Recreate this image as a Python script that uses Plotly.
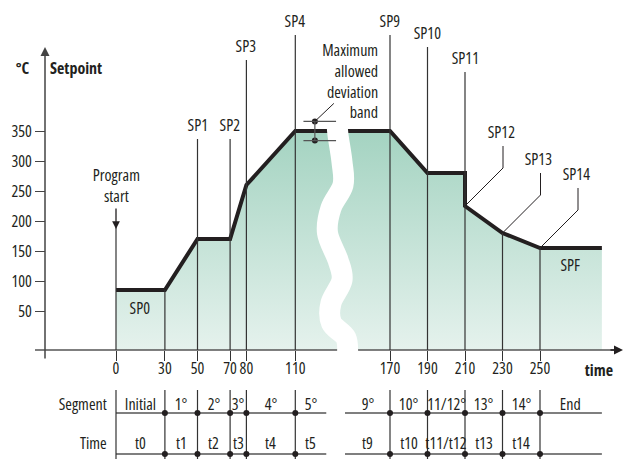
import plotly.graph_objects as go

# ---------------- data ----------------
times_left = [0, 30, 50, 70, 80, 110]
setpoints_left = [85, 85, 170, 170, 260, 350]
times_right = [170, 190, 210, 210, 230, 250]
setpoints_right = [350, 280, 280, 225, 180, 155]
end_time = 283          # end of the SPF hold
hold_value = 350        # SP4..SP9 plateau (hidden by the axis break)
deviation = 16          # half-width of the maximum allowed deviation band
y_ticks = [50, 100, 150, 200, 250, 300, 350]

sp_names = ["SP1", "SP2", "SP3", "SP4", "SP9", "SP10", "SP11"]
sp_times = [50, 70, 80, 110, 170, 190, 210]
leader_names = ["SP12", "SP13", "SP14"]
leader_times = [210, 230, 250]
leader_values = [225, 180, 155]

segment_left = ["Initial", "1°", "2°", "3°", "4°", "5°"]
timecol_left = ["t0", "t1", "t2", "t3", "t4", "t5"]
segment_right = ["9°", "10°", "11/12°", "13°", "14°", "End"]
timecol_right = ["t9", "t10", "t11/t12", "t13", "t14", ""]

# ---------------- layout helpers ----------------
W, H = 628, 459
def px(x): return x / W
def py(y): return 1 - y / H

FONT = "Open Sans, Liberation Sans, Arial, sans-serif"
INK = "#231f20"
GRID = "#333333"
FS = 16

Y_BOTTOM = -15
Y_TOP = Y_BOTTOM + 350 / 0.6
LEFT_RANGE = [(35 - 116) / 1.63, (345 - 116) / 1.63]
RIGHT_RANGE = [210 + (332 - 465) / 1.875, 210 + (612 - 465) / 1.875]
L_END = 129      # where the left table rows stop (axis break)
R_START = 146    # where the right table rows start
BREAK_L = 150    # plateau continues past the left panel edge
BREAK_R = 130    # plateau starts before the right panel edge

label_top_px = [139, 139, 60, 35, 35, 47, 72]

grad = dict(type="vertical",
            colorscale=[[0, "rgb(229,242,237)"], [1, "rgb(164,211,193)"]],
            start=Y_BOTTOM, stop=350)

fig = go.Figure()

# fills
fx = [0] + times_left + [BREAK_L, BREAK_L]
fy = [Y_BOTTOM] + setpoints_left + [hold_value, Y_BOTTOM]
fig.add_trace(go.Scatter(x=fx, y=fy, fill="toself", mode="lines",
                         line=dict(width=0), fillgradient=grad,
                         xaxis="x", yaxis="y", hoverinfo="skip"))
gx = [BREAK_R, BREAK_R] + times_right + [end_time, end_time]
gy = [Y_BOTTOM, hold_value] + setpoints_right + [setpoints_right[-1], Y_BOTTOM]
fig.add_trace(go.Scatter(x=gx, y=gy, fill="toself", mode="lines",
                         line=dict(width=0), fillgradient=grad,
                         xaxis="x2", yaxis="y", hoverinfo="skip"))

# setpoint profile
fig.add_trace(go.Scatter(x=times_left + [BREAK_L], y=setpoints_left + [hold_value],
                         mode="lines", line=dict(color=INK, width=4),
                         xaxis="x", yaxis="y"))
fig.add_trace(go.Scatter(x=[BREAK_R] + times_right + [end_time],
                         y=[hold_value] + setpoints_right + [setpoints_right[-1]],
                         mode="lines", line=dict(color=INK, width=4),
                         xaxis="x2", yaxis="y"))

# deviation band markers
dev_t = 122
fig.add_trace(go.Scatter(x=[dev_t, dev_t], y=[hold_value + deviation, hold_value - deviation],
                         mode="markers", marker=dict(color=INK, size=6),
                         xaxis="x", yaxis="y"))

shapes = []
annotations = []

def xref_for(t):
    return "x" if t <= 140 else "x2"

def txt(size=FS, family=FONT):
    return dict(size=size, color=INK, family=family)

def ann(**kw):
    d = dict(showarrow=False, xanchor="center", yanchor="middle", font=txt())
    d.update(kw)
    annotations.append(d)

# axis lines (broken)
shapes.append(dict(type="line", xref="paper", yref="paper", x0=px(35), x1=px(340),
                   y0=py(350), y1=py(350), line=dict(color="#555", width=1.5), layer="above"))
shapes.append(dict(type="line", xref="paper", yref="paper", x0=px(352), x1=px(614),
                   y0=py(350), y1=py(350), line=dict(color="#555", width=1.5), layer="above"))

# vertical lines from labels
for name, t, top in zip(sp_names, sp_times, label_top_px):
    xr = xref_for(t)
    shapes.append(dict(type="line", xref=xr, yref="paper", x0=t, x1=t,
                       y0=py(350), y1=py(top), line=dict(color=GRID, width=1.2), layer="above"))
    ann(x=t, xref=xr, y=py(top - 14), yref="paper", text=name)
# vertical lines from the curve
for t, v in [(30, setpoints_left[1])] + list(zip(leader_times[1:], leader_values[1:])):
    xr = xref_for(t)
    shapes.append(dict(type="line", xref=xr, yref="y", x0=t, x1=t, y0=Y_BOTTOM, y1=v,
                       line=dict(color=GRID, width=1.2), layer="above"))
# program start line
shapes.append(dict(type="line", xref="x", yref="paper", x0=0, x1=0, y0=py(350), y1=py(226),
                   line=dict(color=GRID, width=1.2), layer="above"))

# white wavy break band
pts = [(337, 122), (338, 135), (342, 162), (343, 185), (331, 208), (327.5, 233),
       (338, 260), (342, 280), (331, 303), (331.5, 323), (346, 338), (347.5, 358)]
P = [pts[0]] + pts + [pts[-1]]
path = "M{},{}".format(px(P[1][0]), py(P[1][1]))
for i in range(1, len(P) - 2):
    p0, p1, p2, p3 = P[i - 1], P[i], P[i + 1], P[i + 2]
    c1 = (p1[0] + (p2[0] - p0[0]) / 6, p1[1] + (p2[1] - p0[1]) / 6)
    c2 = (p2[0] - (p3[0] - p1[0]) / 6, p2[1] - (p3[1] - p1[1]) / 6)
    path += " C{},{} {},{} {},{}".format(px(c1[0]), py(c1[1]), px(c2[0]), py(c2[1]),
                                          px(p2[0]), py(p2[1]))
shapes.append(dict(type="path", xref="paper", yref="paper", path=path,
                   line=dict(color="white", width=21), layer="above"))

# deviation band lines
for v in [hold_value + deviation, hold_value - deviation]:
    shapes.append(dict(type="line", xref="x", yref="y", x0=115, x1=135, y0=v, y1=v,
                       line=dict(color="#555", width=1.2), layer="above"))
shapes.append(dict(type="line", xref="x", yref="y", x0=dev_t, x1=dev_t,
                   y0=hold_value - deviation, y1=hold_value + deviation,
                   line=dict(color="#555", width=1.2), layer="above"))
shapes.append(dict(type="path", xref="x", yref="y", xsizemode="pixel", ysizemode="pixel",
                   xanchor=dev_t, yanchor=hold_value + deviation, path="M0,0 L19,18",
                   line=dict(color=INK, width=1), layer="above"))
ann(x=px(380), y=py(81), xref="paper", yref="paper",
    text="Maximum<br>allowed<br>deviation<br>band", align="right", xanchor="right")

# leader labels SP12..SP14
for name, t, v in zip(leader_names, leader_times, leader_values):
    shapes.append(dict(type="path", xref="x2", yref="y", xsizemode="pixel", ysizemode="pixel",
                       xanchor=t, yanchor=v, path="M0,0 L38,38 L38,60",
                       line=dict(color=INK, width=1), layer="above"))
    ann(x=t, y=v, xref="x2", yref="y", text=name, xshift=36, yshift=74)

# SP0 / SPF labels
ann(x=(times_left[0] + times_left[1]) / 2, y=setpoints_left[0], xref="x", yref="y",
    text="SP0", yshift=-18)
ann(x=(times_right[-1] + end_time) / 2, y=setpoints_right[-1], xref="x2", yref="y",
    text="SPF", yshift=-17)

# program start
ann(x=0, xref="x", y=py(185), yref="paper", text="Program<br>start")
annotations.append(dict(x=0, xref="x", y=py(229), yref="paper", text="", showarrow=True,
                        ax=0, ay=-22, arrowhead=2, arrowsize=1.2, arrowwidth=1.3,
                        arrowcolor=INK, standoff=0))

# axes arrows and titles
annotations.append(dict(x=px(45), y=py(47), xref="paper", yref="paper", text="",
                        showarrow=True, ax=0, ay=313, arrowhead=2, arrowsize=1.2,
                        arrowwidth=1.5, arrowcolor="#444", standoff=0))
annotations.append(dict(x=px(623), y=py(350), xref="paper", yref="paper", text="",
                        showarrow=True, ax=-14, ay=0, arrowhead=2, arrowsize=1.2,
                        arrowwidth=1.5, arrowcolor=INK, standoff=0))
ann(x=px(22), y=py(68), xref="paper", yref="paper", text="<b>°C</b>")
ann(x=px(48), y=py(68), xref="paper", yref="paper", text="<b>Setpoint</b>", xanchor="left", align="left")
ann(x=px(615), y=py(370), xref="paper", yref="paper", text="<b>time</b>", xanchor="right", align="right")

# ---------------- table ----------------
ROW1, ROW2 = 413, 454
for x0, x1, xr in [(0, L_END, "x"), (R_START, end_time, "x2")]:
    for r in (ROW1, ROW2):
        shapes.append(dict(type="line", xref=xr, yref="paper", x0=x0, x1=x1,
                           y0=py(r), y1=py(r), line=dict(color="#555", width=1.3), layer="above"))
for t in times_left + sorted(set(times_right)):
    xr = xref_for(t)
    shapes.append(dict(type="line", xref=xr, yref="paper", x0=t, x1=t, y0=py(390), y1=py(462),
                       line=dict(color=GRID, width=1.2), layer="above"))
    if t != 0:
        for r in (ROW1, ROW2):
            shapes.append(dict(type="circle", xref=xr, yref="paper", xsizemode="pixel",
                               ysizemode="pixel", xanchor=t, yanchor=py(r),
                               x0=-3, x1=3, y0=-3, y1=3, fillcolor=INK,
                               line=dict(width=0), layer="above"))

bounds_left = times_left + [L_END]
bounds_right = [R_START] + sorted(set(times_right)) + [end_time]
for bounds, segs, tcol, xr in [(bounds_left, segment_left, timecol_left, "x"),
                               (bounds_right, segment_right, timecol_right, "x2")]:
    for i, (s, tl) in enumerate(zip(segs, tcol)):
        xm = (bounds[i] + bounds[i + 1]) / 2
        ann(x=xm, xref=xr, y=py(404), yref="paper", text=s)
        if tl:
            ann(x=xm, xref=xr, y=py(443), yref="paper", text=tl)
ann(x=px(109), y=py(404), xref="paper", yref="paper", text="Segment", xanchor="right", align="right")
ann(x=px(109), y=py(443), xref="paper", yref="paper", text="Time", xanchor="right", align="right")

tickfont = txt()
fig.update_layout(
    width=W, height=H, autosize=False,
    margin=dict(l=0, r=0, t=0, b=0, pad=0),
    paper_bgcolor="white", plot_bgcolor="rgba(0,0,0,0)",
    showlegend=False, hovermode=False,
    xaxis=dict(domain=[px(35), px(345)], range=LEFT_RANGE, anchor="y",
               tickvals=times_left, ticktext=[str(t) for t in times_left], tickangle=0,
               ticks="outside", ticklen=10, tickcolor=GRID, tickwidth=1.2, ticklabelstandoff=-6,
               showline=False, showgrid=False, zeroline=False, tickfont=tickfont),
    xaxis2=dict(domain=[px(332), px(612)], range=RIGHT_RANGE, anchor="y",
                tickvals=sorted(set(times_right)), ticktext=[str(t) for t in sorted(set(times_right))],
                tickangle=0, ticklabelstandoff=-6,
                ticks="outside", ticklen=10, tickcolor=GRID, tickwidth=1.2,
                showline=False, showgrid=False, zeroline=False, tickfont=tickfont),
    yaxis=dict(domain=[py(350), 1], range=[Y_BOTTOM, Y_TOP], anchor="free", position=px(45),
               tickvals=y_ticks, ticks="outside", ticklen=10, tickcolor="#444", tickwidth=1.2,
               showline=False, showgrid=False, zeroline=False, tickfont=tickfont),
    shapes=shapes, annotations=annotations,
)

POST = ("document.body.style.margin='0';document.body.style.overflow='hidden';"
        "var s=document.createElement('style');"
        "s.innerHTML='svg text{font-stretch:condensed !important;}';"
        "document.head.appendChild(s);")
fig.write_html("out.html", config={"displayModeBar": False}, post_script=POST)
